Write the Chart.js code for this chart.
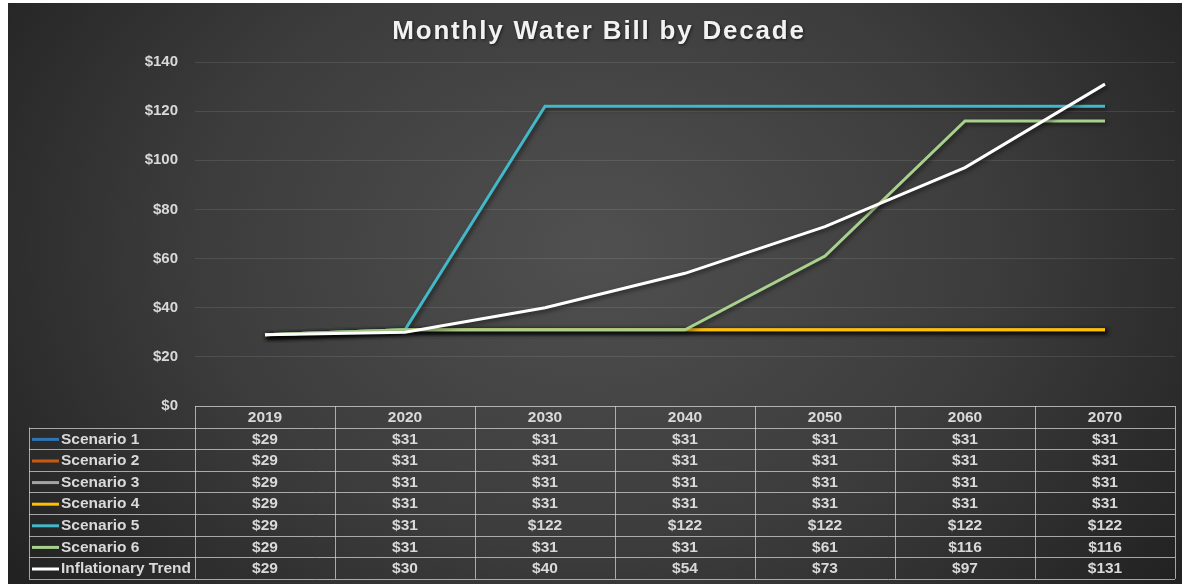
<!DOCTYPE html>
<html>
<head>
<meta charset="utf-8">
<script src="https://cdn.jsdelivr.net/npm/chart.js@4.4.1/dist/chart.umd.min.js"></script>
<style>
html,body{margin:0;padding:0;background:#fff;width:1182px;height:584px;overflow:hidden;}
#wrap{position:absolute;left:8px;top:3px;width:1174px;height:581px;}
</style>
</head>
<body>
<div id="wrap"><canvas id="c"></canvas></div>
<script>
const categories = ['2019','2020','2030','2040','2050','2060','2070'];
const scenario1 = [29,31,31,31,31,31,31];
const scenario2 = [29,31,31,31,31,31,31];
const scenario3 = [29,31,31,31,31,31,31];
const scenario4 = [29,31,31,31,31,31,31];
const scenario5 = [29,31,122,122,122,122,122];
const scenario6 = [29,31,31,31,61,116,116];
const inflation = [29,30,40,54,73,97,131];
const seriesNames = ['Scenario 1','Scenario 2','Scenario 3','Scenario 4','Scenario 5','Scenario 6','Inflationary Trend'];
const seriesColors = ['#2e75b6','#c55a11','#a5a5a5','#ffc000','#42b8c8','#a9d18e','#ffffff'];
const seriesData = [scenario1,scenario2,scenario3,scenario4,scenario5,scenario6,inflation];
const yTicks = {min:0,max:140,step:20};

const FAMILY = '"Liberation Sans", Arial, sans-serif';
const FONT = 'bold 15.5px ' + FAMILY;
const TXT = '#d9d9d9';

const bgPlugin = {
  id:'bg',
  beforeDraw(chart){
    const {ctx,width,height} = chart;
    ctx.save();
    const cx = width*0.5, cy = height*0.42;
    ctx.translate(cx,cy);
    ctx.scale(1,0.75);
    const g = ctx.createRadialGradient(0,0,0,0,0,width*0.62);
    g.addColorStop(0,'#505050');
    g.addColorStop(0.55,'#3c3c3c');
    g.addColorStop(1,'#222222');
    ctx.fillStyle = g;
    ctx.fillRect(-cx-10,-cy/0.75-10,width+20,height/0.75+20);
    ctx.restore();
  }
};

const shadowPlugin = {
  id:'shadow',
  beforeDatasetsDraw(chart){
    const ctx = chart.ctx;
    ctx.save();
    ctx.shadowColor = 'rgba(0,0,0,0.55)';
    ctx.shadowBlur = 4;
    ctx.shadowOffsetX = 2;
    ctx.shadowOffsetY = 2;
  },
  afterDatasetsDraw(chart){ chart.ctx.restore(); }
};

const tablePlugin = {
  id:'table',
  afterDraw(chart){
    const {ctx, chartArea} = chart;
    const x = chart.scales.x;
    const top = chartArea.bottom;
    const rowH = 21.6;
    const left0 = 21;
    const n = categories.length;
    const colW = (chartArea.right - chartArea.left)/n;
    const bounds = [];
    for(let i=0;i<=n;i++) bounds.push(chartArea.left + i*colW);
    ctx.save();
    // title
    ctx.font = 'bold 26px ' + FAMILY;
    if ('letterSpacing' in ctx) ctx.letterSpacing = '1.8px';
    ctx.textAlign = 'center';
    ctx.textBaseline = 'middle';
    ctx.shadowColor = 'rgba(0,0,0,0.6)';
    ctx.shadowBlur = 3; ctx.shadowOffsetX = 1; ctx.shadowOffsetY = 1;
    ctx.fillStyle = '#f2f2f2';
    ctx.fillText('Monthly Water Bill by Decade', 591, 29);
    if ('letterSpacing' in ctx) ctx.letterSpacing = '0px';
    ctx.shadowColor = 'transparent';
    // grid lines
    ctx.strokeStyle = 'rgba(210,210,210,0.75)';
    ctx.lineWidth = 1;
    const bottom = top + rowH*8;
    ctx.beginPath();
    ctx.moveTo(bounds[0], top+0.5); ctx.lineTo(bounds[n], top+0.5);
    for(let r=1;r<=8;r++){
      const yy = Math.round(top + r*rowH)+0.5;
      ctx.moveTo(left0, yy); ctx.lineTo(bounds[n], yy);
    }
    for(let i=0;i<=n;i++){
      const xx = Math.round(bounds[i])+0.5;
      ctx.moveTo(xx, top); ctx.lineTo(xx, bottom);
    }
    ctx.moveTo(left0+0.5, top+rowH); ctx.lineTo(left0+0.5, bottom);
    ctx.stroke();
    // header labels
    ctx.font = FONT;
    ctx.fillStyle = TXT;
    ctx.textAlign = 'center';
    ctx.textBaseline = 'middle';
    categories.forEach((c,i)=>{
      ctx.fillText(c, x.getPixelForValue(i), top + rowH/2 + 1);
    });
    // rows
    seriesNames.forEach((name,r)=>{
      const yc = top + rowH*(r+1) + rowH/2 + 1;
      ctx.strokeStyle = seriesColors[r];
      ctx.lineWidth = 3;
      ctx.beginPath();
      ctx.moveTo(left0+3, yc); ctx.lineTo(left0+30, yc);
      ctx.stroke();
      ctx.fillStyle = TXT;
      ctx.textAlign = 'left';
      ctx.fillText(name, left0+32, yc);
      ctx.textAlign = 'center';
      seriesData[r].forEach((v,i)=>{
        ctx.fillText('$'+v, x.getPixelForValue(i), yc);
      });
    });
    ctx.restore();
  }
};

new Chart(document.getElementById('c'), {
  type:'line',
  data:{
    labels:categories,
    datasets: seriesNames.map((name,i)=>({
      label:name,
      data:seriesData[i],
      borderColor:seriesColors[i],
      backgroundColor:seriesColors[i],
      borderWidth:3,
      pointRadius:0,
      tension:0,
      fill:false,
      order: seriesNames.length - 1 - i
    }))
  },
  options:{
    responsive:true,
    maintainAspectRatio:false,
    animation:false,
    layout:{padding:{top:59,right:7,bottom:178,left:0}},
    plugins:{legend:{display:false},tooltip:{enabled:false},title:{display:false}},
    scales:{
      x:{display:false, offset:true},
      y:{
        min:yTicks.min,max:yTicks.max,
        ticks:{stepSize:yTicks.step,color:TXT,font:{family:FAMILY,size:15,weight:'bold'},padding:17,
          callback:(v)=>'$'+v},
        grid:{color:'rgba(255,255,255,0.1)',drawTicks:false},
        border:{display:false},
        afterFit(s){ s.width = 187; }
      }
    }
  },
  plugins:[bgPlugin,shadowPlugin,tablePlugin]
});
</script>
</body>
</html>
